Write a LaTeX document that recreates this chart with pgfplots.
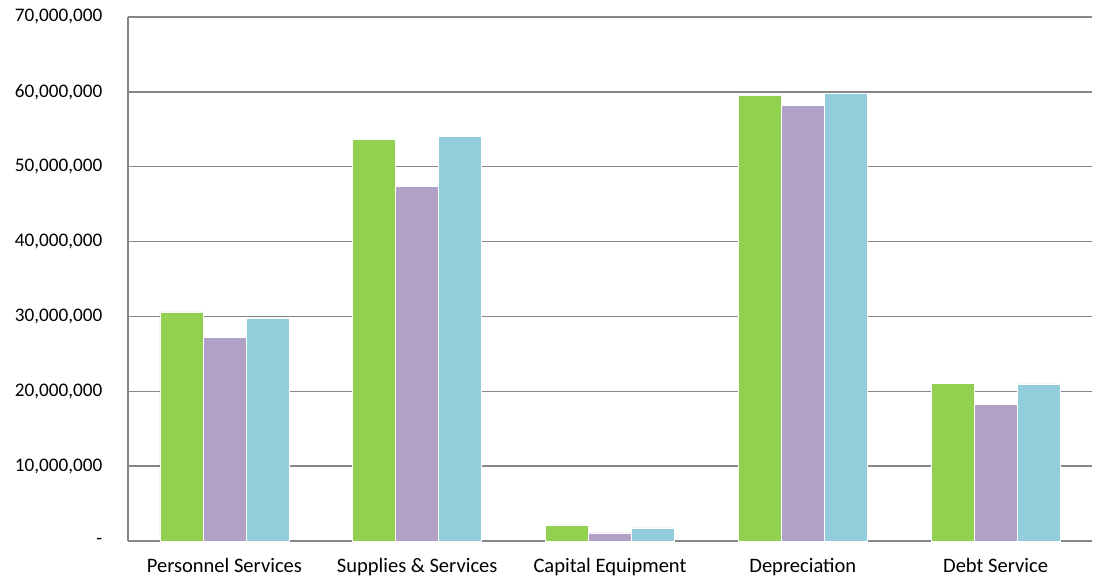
\documentclass[border=0pt]{standalone}
\usepackage{pgfplots}
\pgfplotsset{compat=1.18}
\usepackage{fontspec}
\setmainfont{Carlito}
\definecolor{GREEN}{RGB}{146,208,80}
\definecolor{PURPLE}{RGB}{178,161,199}
\definecolor{BLUE}{RGB}{146,205,220}
\definecolor{AXGRAY}{RGB}{134,134,134}
\begin{document}
\fontsize{15.4pt}{18pt}\selectfont
\begin{tikzpicture}
\begin{axis}[
    name=main,
    scale only axis,
    width=723pt, height=393pt,
    ybar=0pt,
    bar width=32.25pt,
    xmin=-0.5, xmax=4.5,
    ymin=0, ymax=70,
    xtick={0,1,2,3,4},
    xticklabels={Personnel Services, Supplies \& Services, Capital Equipment, Depreciation, Debt Service},
    ytick={0,10,20,30,40,50,60,70},
    yticklabels={{-},{10,000,000},{20,000,000},{30,000,000},{40,000,000},{50,000,000},{60,000,000},{70,000,000}},
    /pgf/number format/assume math mode=true,
    axis x line*=bottom,
    axis y line*=left,
    axis line style={AXGRAY, line width=1.4pt, -},
    ymajorgrids,
    grid style={AXGRAY, line width=1.1pt},
    major tick length=0pt,
    xticklabel style={yshift=-7.5pt},
    yticklabel style={xshift=-14pt, font=\fontsize{14.4pt}{17pt}\selectfont},
    clip=false,
]
\addplot[fill=GREEN, draw=white, line width=0.4pt] coordinates {
    (0,30.6) (1,53.7) (2,2.14) (3,59.6) (4,21.1)
};
\addplot[fill=PURPLE, draw=white, line width=0.4pt] coordinates {
    (0,27.25) (1,47.4) (2,1.07) (3,58.2) (4,18.3)
};
\addplot[fill=BLUE, draw=white, line width=0.4pt] coordinates {
    (0,29.8) (1,54.1) (2,1.74) (3,59.8) (4,21.0)
};
\end{axis}
% invisible frame to reproduce the outer margins
\path ([xshift=-96pt,yshift=-28.5pt]main.south west) rectangle ([xshift=1.5pt,yshift=12.75pt]main.north east);
\end{tikzpicture}
\end{document}
